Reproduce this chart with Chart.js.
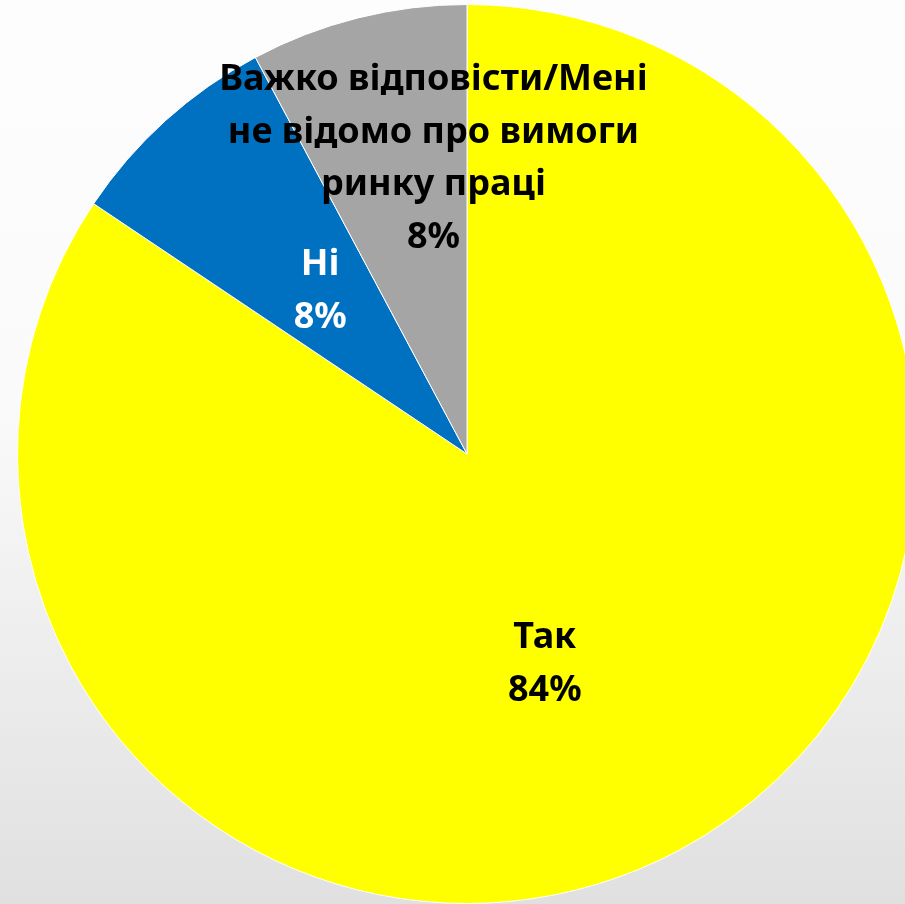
<!DOCTYPE html>
<html>
<head>
<meta charset="utf-8">
<script src="https://cdn.jsdelivr.net/npm/chart.js@4/dist/chart.umd.min.js"></script>
<style>
  html, body {
    margin: 0;
    padding: 0;
    width: 905px;
    height: 904px;
    overflow: hidden;
    background: linear-gradient(to bottom, #fdfdfd 0%, #fafafa 45%, #e0e0e0 100%);
  }
  #wrap {
    position: absolute;
    left: 17px;
    top: 4px;
    width: 900px;
    height: 900px;
  }
</style>
</head>
<body>
<div id="wrap"><canvas id="chart"></canvas></div>
<script>
const categories = ["Так", "Ні", "Важко відповісти/Мені не відомо про вимоги ринку праці"];
const values = [84.4, 7.8, 7.8];
const colors = ["#FFFF00", "#0070C0", "#A5A5A5"];

// label text wrapped like the original
const labelLines = [
  ["Так"],
  ["Ні"],
  ["Важко відповісти/Мені", "не відомо про вимоги", "ринку праці"]
];
const labelColors = ["#000000", "#FFFFFF", "#000000"];
// nudge from the slice's own label point (px)
const labelOffsets = [[-28, 12], [4, 4], [21, -77]];

const pieLabels = {
  id: "pieLabels",
  afterDatasetsDraw(chart) {
    const ctx = chart.ctx;
    const meta = chart.getDatasetMeta(0);
    const total = values.reduce((a, b) => a + b, 0);
    const lineH = 52.5;
    ctx.save();
    ctx.font = "bold 36px 'Noto Sans'";
    ctx.textAlign = "center";
    ctx.textBaseline = "middle";
    meta.data.forEach((arc, i) => {
      const pos = arc.tooltipPosition();
      const x = pos.x + labelOffsets[i][0];
      const y = pos.y + labelOffsets[i][1];
      const lines = labelLines[i].concat([Math.round(values[i] / total * 100) + "%"]);
      const top = y - (lines.length - 1) * lineH / 2;
      ctx.fillStyle = labelColors[i];
      lines.forEach((t, k) => ctx.fillText(t, x, top + k * lineH));
    });
    ctx.restore();
  }
};

new Chart(document.getElementById("chart"), {
  type: "pie",
  data: {
    labels: categories,
    datasets: [{
      data: values,
      backgroundColor: colors,
      borderColor: "#ffffff",
      borderWidth: 1
    }]
  },
  options: {
    responsive: true,
    maintainAspectRatio: false,
    animation: false,
    layout: { padding: 0 },
    plugins: {
      legend: { display: false },
      tooltip: { enabled: false }
    }
  },
  plugins: [pieLabels]
});
</script>
</body>
</html>
